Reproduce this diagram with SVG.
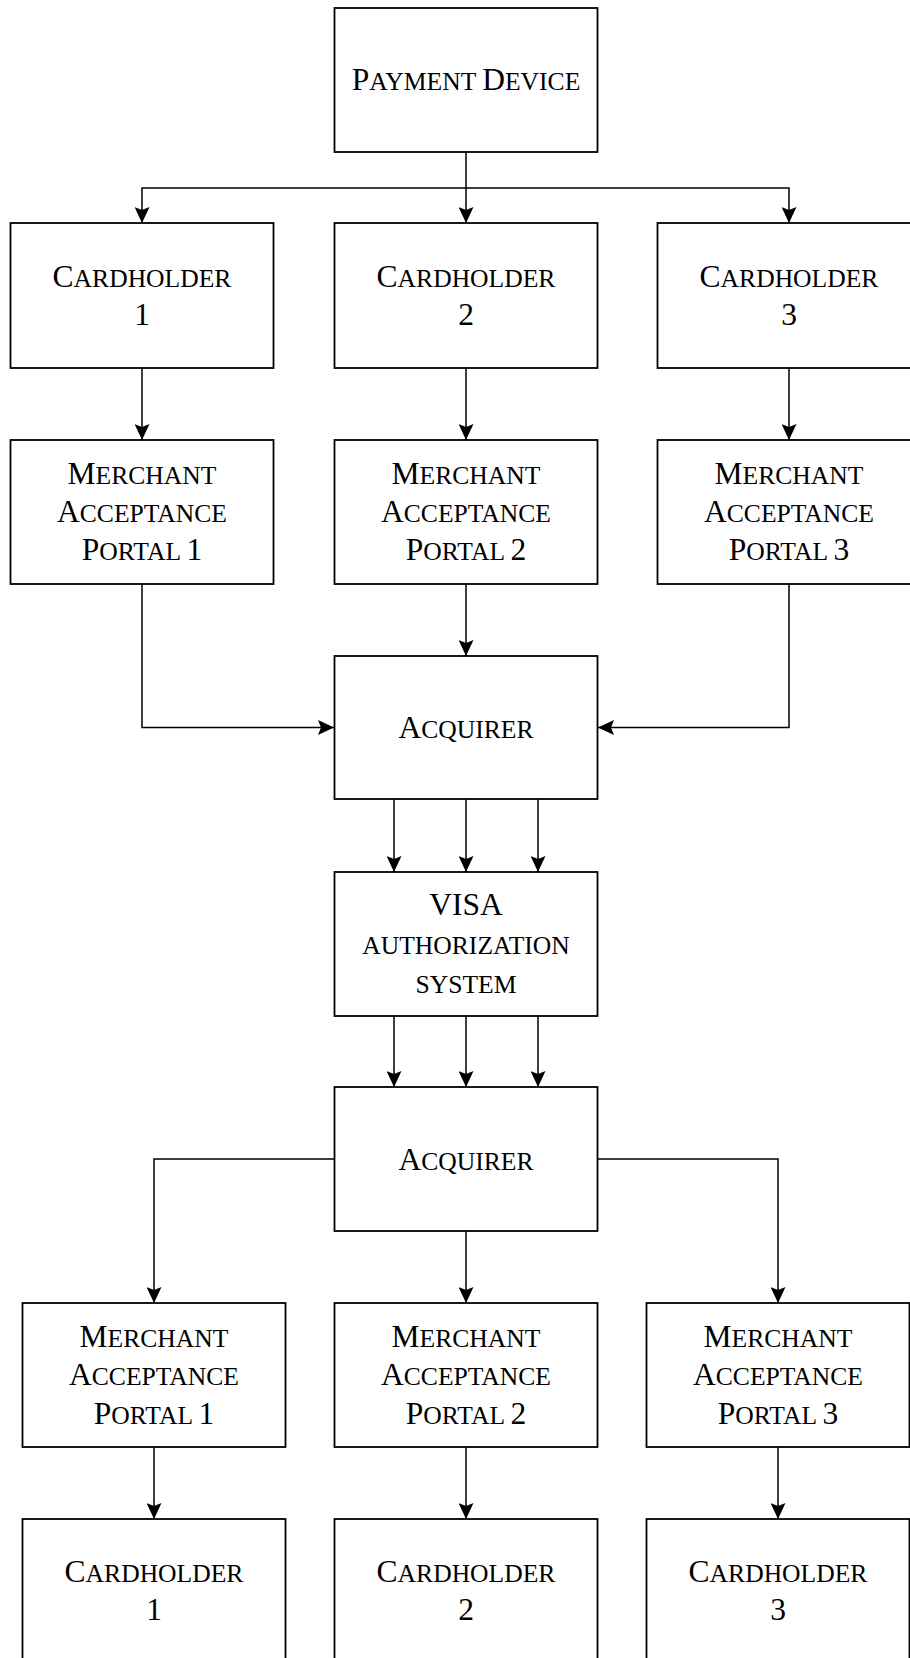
<svg xmlns="http://www.w3.org/2000/svg" width="910" height="1658" viewBox="0 0 910 1658">
<style>
.box{fill:#fff;stroke:#000;stroke-width:1.8}
.t{font-family:"Liberation Serif","Times New Roman",serif;font-size:31.5px;fill:#000;text-anchor:middle}
.s{font-size:25.6px}
.c{fill:none;stroke:#000;stroke-width:1.5}
</style>
<defs>
<marker id="ah" viewBox="0 0 16 15" refX="16" refY="7.5" markerWidth="16" markerHeight="15" markerUnits="userSpaceOnUse" orient="auto">
<path d="M0,0 L16,7.5 L0,15 L3,7.5 Z" fill="#000"/>
</marker>
</defs>
<rect width="910" height="1658" fill="#fff"/>
<g id="connectors">
<path class="c" d="M466,152 V223" marker-end="url(#ah)"/>
<path class="c" d="M466,188 H142 V223" marker-end="url(#ah)"/>
<path class="c" d="M466,188 H789 V223" marker-end="url(#ah)"/>
<path class="c" d="M142,368 V440" marker-end="url(#ah)"/>
<path class="c" d="M466,368 V440" marker-end="url(#ah)"/>
<path class="c" d="M789,368 V440" marker-end="url(#ah)"/>
<path class="c" d="M142,584 V727.5 H334" marker-end="url(#ah)"/>
<path class="c" d="M466,584 V656" marker-end="url(#ah)"/>
<path class="c" d="M789,584 V727.5 H598" marker-end="url(#ah)"/>
<path class="c" d="M394,799 V872" marker-end="url(#ah)"/>
<path class="c" d="M466,799 V872" marker-end="url(#ah)"/>
<path class="c" d="M538,799 V872" marker-end="url(#ah)"/>
<path class="c" d="M394,1016 V1087" marker-end="url(#ah)"/>
<path class="c" d="M466,1016 V1087" marker-end="url(#ah)"/>
<path class="c" d="M538,1016 V1087" marker-end="url(#ah)"/>
<path class="c" d="M334,1159 H154 V1303" marker-end="url(#ah)"/>
<path class="c" d="M466,1231 V1303" marker-end="url(#ah)"/>
<path class="c" d="M598,1159 H778 V1303" marker-end="url(#ah)"/>
<path class="c" d="M154,1447 V1519" marker-end="url(#ah)"/>
<path class="c" d="M466,1447 V1519" marker-end="url(#ah)"/>
<path class="c" d="M778,1447 V1519" marker-end="url(#ah)"/>
</g>
<g id="payment-device">
<rect class="box" x="334.5" y="8" width="263" height="144"/>
<text class="t" x="466" y="90">P<tspan class="s">AYMENT </tspan>D<tspan class="s">EVICE</tspan></text>
</g>
<g id="cardholder-1-top">
<rect class="box" x="10.5" y="223" width="263" height="145"/>
<text class="t" x="142" y="287">C<tspan class="s">ARDHOLDER</tspan></text>
<text class="t" x="142" y="325">1</text>
</g>
<g id="cardholder-2-top">
<rect class="box" x="334.5" y="223" width="263" height="145"/>
<text class="t" x="466" y="287">C<tspan class="s">ARDHOLDER</tspan></text>
<text class="t" x="466" y="325">2</text>
</g>
<g id="cardholder-3-top">
<rect class="box" x="657.5" y="223" width="263" height="145"/>
<text class="t" x="789" y="287">C<tspan class="s">ARDHOLDER</tspan></text>
<text class="t" x="789" y="325">3</text>
</g>
<g id="merchant-1-top">
<rect class="box" x="10.5" y="440" width="263" height="144"/>
<text class="t" x="142" y="483.5">M<tspan class="s">ERCHANT</tspan></text>
<text class="t" x="142" y="521.5">A<tspan class="s">CCEPTANCE</tspan></text>
<text class="t" x="142" y="559.5">P<tspan class="s">ORTAL </tspan>1</text>
</g>
<g id="merchant-2-top">
<rect class="box" x="334.5" y="440" width="263" height="144"/>
<text class="t" x="466" y="483.5">M<tspan class="s">ERCHANT</tspan></text>
<text class="t" x="466" y="521.5">A<tspan class="s">CCEPTANCE</tspan></text>
<text class="t" x="466" y="559.5">P<tspan class="s">ORTAL </tspan>2</text>
</g>
<g id="merchant-3-top">
<rect class="box" x="657.5" y="440" width="263" height="144"/>
<text class="t" x="789" y="483.5">M<tspan class="s">ERCHANT</tspan></text>
<text class="t" x="789" y="521.5">A<tspan class="s">CCEPTANCE</tspan></text>
<text class="t" x="789" y="559.5">P<tspan class="s">ORTAL </tspan>3</text>
</g>
<g id="acquirer-1">
<rect class="box" x="334.5" y="656" width="263" height="143"/>
<text class="t" x="466" y="738">A<tspan class="s">CQUIRER</tspan></text>
</g>
<g id="visa">
<rect class="box" x="334.5" y="872" width="263" height="144"/>
<text class="t" x="466" y="915">VISA</text>
<text class="t s" x="466" y="953.5">AUTHORIZATION</text>
<text class="t s" x="466" y="992.5">SYSTEM</text>
</g>
<g id="acquirer-2">
<rect class="box" x="334.5" y="1087" width="263" height="144"/>
<text class="t" x="466" y="1170">A<tspan class="s">CQUIRER</tspan></text>
</g>
<g id="merchant-1-bottom">
<rect class="box" x="22.5" y="1303" width="263" height="144"/>
<text class="t" x="154" y="1346.5">M<tspan class="s">ERCHANT</tspan></text>
<text class="t" x="154" y="1385">A<tspan class="s">CCEPTANCE</tspan></text>
<text class="t" x="154" y="1423.5">P<tspan class="s">ORTAL </tspan>1</text>
</g>
<g id="merchant-2-bottom">
<rect class="box" x="334.5" y="1303" width="263" height="144"/>
<text class="t" x="466" y="1346.5">M<tspan class="s">ERCHANT</tspan></text>
<text class="t" x="466" y="1385">A<tspan class="s">CCEPTANCE</tspan></text>
<text class="t" x="466" y="1423.5">P<tspan class="s">ORTAL </tspan>2</text>
</g>
<g id="merchant-3-bottom">
<rect class="box" x="646.5" y="1303" width="263" height="144"/>
<text class="t" x="778" y="1346.5">M<tspan class="s">ERCHANT</tspan></text>
<text class="t" x="778" y="1385">A<tspan class="s">CCEPTANCE</tspan></text>
<text class="t" x="778" y="1423.5">P<tspan class="s">ORTAL </tspan>3</text>
</g>
<g id="cardholder-1-bottom">
<rect class="box" x="22.5" y="1519" width="263" height="145"/>
<text class="t" x="154" y="1582">C<tspan class="s">ARDHOLDER</tspan></text>
<text class="t" x="154" y="1620">1</text>
</g>
<g id="cardholder-2-bottom">
<rect class="box" x="334.5" y="1519" width="263" height="145"/>
<text class="t" x="466" y="1582">C<tspan class="s">ARDHOLDER</tspan></text>
<text class="t" x="466" y="1620">2</text>
</g>
<g id="cardholder-3-bottom">
<rect class="box" x="646.5" y="1519" width="263" height="145"/>
<text class="t" x="778" y="1582">C<tspan class="s">ARDHOLDER</tspan></text>
<text class="t" x="778" y="1620">3</text>
</g>
</svg>
